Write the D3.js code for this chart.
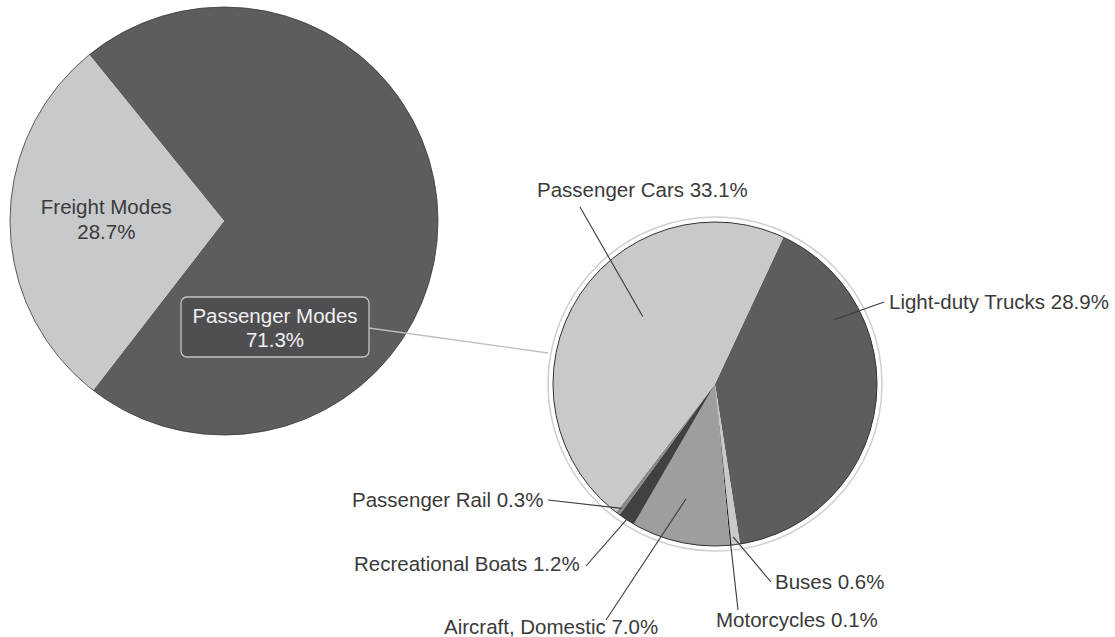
<!DOCTYPE html>
<html>
<head>
<meta charset="utf-8">
<script src="https://cdn.jsdelivr.net/npm/d3@7/dist/d3.min.js"></script>
<style>
  body { margin: 0; background: #fff; }
  text { font-family: "Liberation Sans", Arial, Helvetica, sans-serif; }
</style>
</head>
<body>
<script>
// top level split
const modes = ['Passenger Modes', 'Freight Modes'];
const modeShares = [71.3, 28.7];

// passenger breakdown (share of total)
const passengerModes = ['Light-duty Trucks', 'Buses', 'Motorcycles', 'Aircraft, Domestic',
  'Recreational Boats', 'Passenger Rail', 'Passenger Cars'];
const passengerShares = [28.9, 0.6, 0.1, 7.0, 1.2, 0.3, 33.1];

const width = 1115;
const height = 637;
const FONT = 20.5;

const modeColor = d3.scaleOrdinal()
  .domain(modes)
  .range(['#5c5d5f', '#c8c9cb']);
const passengerColor = d3.scaleOrdinal()
  .domain(passengerModes)
  .range(['#5c5d5f', '#c8c9cb', '#1f1f1f', '#9d9ea0', '#414143', '#88898b', '#c8c9cb']);

const svg = d3.select('body').append('svg')
  .attr('width', width)
  .attr('height', height)
;

const deg = Math.PI / 180;

// big pie
const big = { cx: 224, cy: 221, r: 214 };
const bigPie = d3.pie().sort(null).value(d => d.value)
  .startAngle(-39 * deg).endAngle(321 * deg);
const bigArcs = bigPie(modes.map((m, i) => ({ name: m, value: modeShares[i] })));
const bigArc = d3.arc().innerRadius(0).outerRadius(big.r);

const gBig = svg.append('g').attr('transform', `translate(${big.cx},${big.cy})`);
gBig.selectAll('path')
  .data(bigArcs)
  .enter().append('path')
  .attr('d', bigArc)
  .attr('fill', d => modeColor(d.data.name))
;
gBig.append('circle')
  .attr('r', big.r)
  .attr('fill', 'none')
  .attr('stroke', '#3a3a3a')
  .attr('stroke-width', 0.8)
;

// freight label
const freight = bigArcs[1];
const fc = d3.arc().innerRadius(0).outerRadius(big.r * 1.1).centroid(freight);
const fLabel = gBig.append('text')
  .attr('text-anchor', 'middle')
  .attr('font-size', FONT)
  .attr('fill', '#3a3a3a');
fLabel.append('tspan').attr('x', fc[0]).attr('y', fc[1] - 8).text(modes[1]);
fLabel.append('tspan').attr('x', fc[0]).attr('y', fc[1] + 17).text(modeShares[1].toFixed(1) + '%');

// small pie
const small = { cx: 715, cy: 384, r: 162, ring: 167 };
const smallPie = d3.pie().sort(null).value(d => d.value)
  .startAngle(25 * deg).endAngle(385 * deg);
const smallArcs = smallPie(passengerModes.map((m, i) => ({ name: m, value: passengerShares[i] })));
const smallArc = d3.arc().innerRadius(0).outerRadius(small.r);

// passenger modes callout
const box = { x: 181, y: 297, w: 188, h: 60 };
svg.append('line')
  .attr('x1', box.x + box.w)
  .attr('y1', box.y + 31)
  .attr('x2', small.cx - small.ring)
  .attr('y2', small.cy - 31)
  .attr('stroke', '#bdbdbd')
  .attr('stroke-width', 1.3)
;
svg.append('rect')
  .attr('x', box.x).attr('y', box.y)
  .attr('width', box.w).attr('height', box.h)
  .attr('rx', 6)
  .attr('fill', '#4f4f51')
  .attr('stroke', '#c4c4c4')
  .attr('stroke-width', 1.3)
;
const pLabel = svg.append('text')
  .attr('text-anchor', 'middle')
  .attr('font-size', FONT)
  .attr('fill', '#f0f0f0');
pLabel.append('tspan').attr('x', box.x + box.w / 2).attr('y', box.y + 26).text(modes[0]);
pLabel.append('tspan').attr('x', box.x + box.w / 2).attr('y', box.y + 50).text(modeShares[0].toFixed(1) + '%');

const gSmall = svg.append('g').attr('transform', `translate(${small.cx},${small.cy})`);
gSmall.append('circle')
  .attr('r', small.ring)
  .attr('fill', '#fff')
  .attr('stroke', '#cfcfcf')
  .attr('stroke-width', 1.5)
;
gSmall.selectAll('path')
  .data(smallArcs)
  .enter().append('path')
  .attr('d', smallArc)
  .attr('fill', d => passengerColor(d.data.name))
;
gSmall.append('circle')
  .attr('r', small.r)
  .attr('fill', 'none')
  .attr('stroke', '#333')
  .attr('stroke-width', 1)
;

// label layout: text anchor point, leader outer end, and where on the slice the leader lands
const labelLayout = {
  'Light-duty Trucks': { tx: 889, ty: 309, ox: 884, oy: 302, t: 0.25, rf: 0.83 },
  'Buses': { tx: 775, ty: 589, ox: 771, oy: 582, t: 0.7, rf: 0.95 },
  'Motorcycles': { tx: 716, ty: 627, ox: 738, oy: 610, t: 0.5, rf: 0.99 },
  'Aircraft, Domestic': { tx: 444, ty: 634, ox: 606, oy: 620, t: 0.55, rf: 0.73 },
  'Recreational Boats': { tx: 354, ty: 571, ox: 586, oy: 566, t: 0.5, rf: 1.0 },
  'Passenger Rail': { tx: 352, ty: 507, ox: 548, oy: 500, t: 0.5, rf: 0.96 },
  'Passenger Cars': { tx: 537, ty: 197, ox: 580, oy: 207, t: 0.57, rf: 0.61 }
};

smallArcs.forEach(d => {
  const L = labelLayout[d.data.name];
  const a = d.startAngle + (d.endAngle - d.startAngle) * L.t;
  const rr = small.r * L.rf;
  const ix = small.cx + rr * Math.sin(a);
  const iy = small.cy - rr * Math.cos(a);
  svg.append('line')
    .attr('x1', L.ox).attr('y1', L.oy)
    .attr('x2', ix).attr('y2', iy)
    .attr('stroke', '#3a3a3a')
    .attr('stroke-width', 1.1)
  ;
  svg.append('text')
    .attr('x', L.tx)
    .attr('y', L.ty)
    .attr('font-size', FONT)
    .attr('fill', '#3a3a3a')
    .text(`${d.data.name} ${d.data.value.toFixed(1)}%`)
  ;
});
</script>
</body>
</html>
